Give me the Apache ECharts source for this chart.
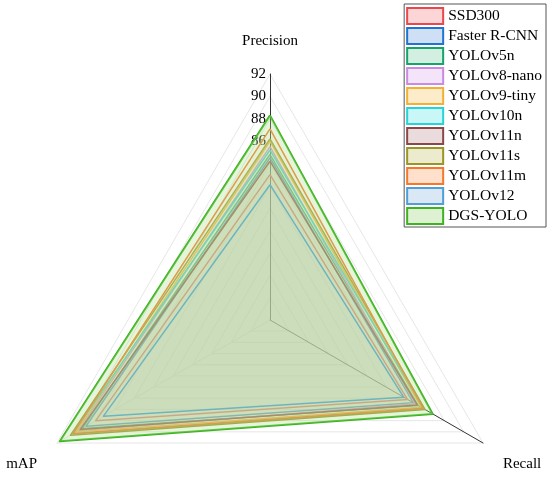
<!DOCTYPE html>
<html>
<head>
<meta charset="utf-8">
<script src="https://cdn.jsdelivr.net/npm/echarts@6/dist/echarts.min.js"></script>
<style>
  html, body { margin: 0; padding: 0; background: #fff; }
  #chart { width: 550px; height: 477px; }
</style>
</head>
<body>
<div id="chart"></div>
<script>
const models = ['SSD300', 'Faster R-CNN', 'YOLOv5n', 'YOLOv8-nano', 'YOLOv9-tiny', 'YOLOv10n',
  'YOLOv11n', 'YOLOv11s', 'YOLOv11m', 'YOLOv12', 'DGS-YOLO']
const precision = [83.0, 84.5, 84.8, 85.5, 86.0, 85.2, 84.2, 86.2, 87.1, 82.1, 88.3]
const recall    = [84.2, 84.8, 85.3, 85.0, 85.6, 85.9, 85.2, 86.0, 85.8, 83.8, 86.8]
const mAP       = [88.0, 89.0, 89.4, 89.8, 90.0, 90.4, 89.6, 90.6, 90.3, 87.2, 91.7]

const lineColors = ['#e8474e', '#1f74d0', '#16a36c', '#c98ae0', '#f2b035', '#25d4d6',
  '#8c4848', '#9a9526', '#f5782a', '#4d9fd6', '#3db321']
const fillColors = ['rgba(248,160,165,0.1)', 'rgba(120,170,230,0.1)', 'rgba(110,200,160,0.15)',
  'rgba(225,190,240,0.1)', 'rgba(250,210,140,0.18)', 'rgba(120,235,235,0.14)',
  'rgba(200,170,170,0.1)', 'rgba(215,212,150,0.2)', 'rgba(252,190,150,0.16)',
  'rgba(170,205,235,0.14)', 'rgba(170,225,140,0.45)']
const legendFills = ['#fcd6d7', '#cfe0f6', '#d2efe2', '#f4e4fa', '#fdecc9', '#c9f6f6',
  '#eadcdc', '#ecebcd', '#fee0cc', '#dae8f5', '#dff1d3']

const serif = '"Liberation Serif", "Times New Roman", serif'

const chart = echarts.init(document.getElementById('chart'))
chart.setOption({
  animation: false,
  legend: {
    orient: 'vertical',
    right: 4,
    top: 4,
    itemWidth: 36,
    itemHeight: 16,
    itemGap: 2,
    padding: [3, 4, 2, 2],
    borderColor: '#555',
    borderWidth: 1,
    icon: 'rect',
    textStyle: { fontFamily: serif, fontSize: 15.5, lineHeight: 18, color: '#000' },
    data: models.map((m, i) => ({
      name: m,
      itemStyle: { color: legendFills[i], borderColor: lineColors[i], borderWidth: 2 }
    }))
  },
  radar: {
    center: [270, 320],
    radius: 246,
    startAngle: 90,
    shape: 'polygon',
    splitNumber: 11,
    indicator: [
      { name: 'Precision', min: 70, max: 92, axisLabel: { show: true } },
      { name: 'mAP', min: 70, max: 92, axisLine: { lineStyle: { color: '#e4e4e4' } } },
      { name: 'Recall', min: 70, max: 92 }
    ],
    nameGap: 23,
    axisName: {
      fontFamily: serif, fontSize: 15, lineHeight: 20, color: '#000',
      formatter: n => '\n' + n
    },
    axisLine: { lineStyle: { color: '#333', width: 1 } },
    splitLine: { lineStyle: { color: '#e6e6e6', width: 1 } },
    splitArea: { show: false },
    axisTick: { show: false },
    axisLabel: {
      show: false,
      margin: 4,
      fontFamily: serif,
      fontSize: 15,
      color: '#000',
      formatter: v => (v >= 86 ? v : '')
    }
  },
  series: [{
    type: 'radar',
    symbol: 'none',
    data: models.map((m, i) => ({
      name: m,
      value: [precision[i], mAP[i], recall[i]],
      lineStyle: { color: lineColors[i], width: i === models.length - 1 ? 2 : 1.5 },
      itemStyle: { color: lineColors[i] },
      areaStyle: { color: fillColors[i] }
    }))
  }]
})
</script>
</body>
</html>
